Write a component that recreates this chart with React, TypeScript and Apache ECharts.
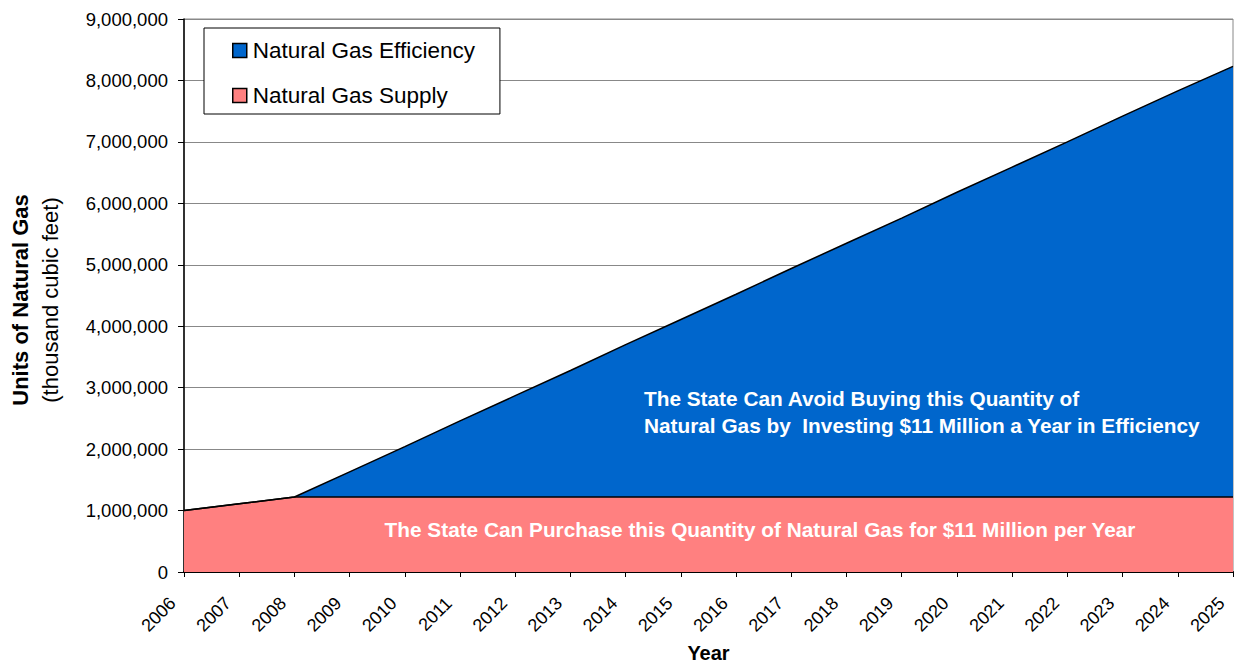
import React, { useEffect, useRef } from "react";
import * as echarts from "echarts";

const years = ["2006","2007","2008","2009","2010","2011","2012","2013","2014","2015","2016","2017","2018","2019","2020","2021","2022","2023","2024","2025"];
const supply = [1000000,1110000,1220000,1220000,1220000,1220000,1220000,1220000,1220000,1220000,1220000,1220000,1220000,1220000,1220000,1220000,1220000,1220000,1220000,1220000];
const efficiency = [0,0,0,410000,820000,1240000,1650000,2060000,2480000,2890000,3300000,3720000,4130000,4540000,4960000,5370000,5780000,6200000,6610000,7010000];
const yTicks = { min: 0, max: 9000000, interval: 1000000 };
const FONT = "'Liberation Sans', Arial, sans-serif";

export default function App() {
  const ref = useRef<HTMLDivElement>(null);
  useEffect(() => {
    document.body.style.margin = "0";
    const chart = echarts.init(ref.current!, null, { renderer: "svg" });
    chart.setOption({
      animation: false,
      textStyle: { fontFamily: FONT, color: "#000" },
      grid: { left: 184, right: 3, top: 19, bottom: 92, show: true, borderColor: "#888", borderWidth: 1, outerBoundsMode: "none", containLabel: false },
      legend: {
        data: ["Natural Gas Efficiency", "Natural Gas Supply"],
        orient: "vertical",
        left: 204,
        top: 28,
        padding: [11, 25, 7, 28],
        itemGap: 22,
        itemWidth: 14,
        itemHeight: 14,
        icon: "rect",
        borderColor: "#000",
        borderWidth: 1,
        backgroundColor: "#fff",
        itemStyle: { borderColor: "#000", borderWidth: 1.5 },
        textStyle: { fontSize: 22.5, color: "#000", fontFamily: FONT, padding: [0, 0, 0, 1], lineHeight: 22 },
      },
      xAxis: {
        type: "category",
        data: years,
        boundaryGap: false,
        name: "Year",
        nameLocation: "middle",
        nameGap: 71,
        nameMoveOverlap: false,
        nameTextStyle: { fontSize: 20, fontWeight: "bold", color: "#000", fontFamily: FONT, lineHeight: 20 },
        axisLine: { lineStyle: { color: "#000", width: 2 } },
        axisTick: { show: true, length: 5, lineStyle: { color: "#000" } },
        axisLabel: { rotate: 45, fontSize: 18, color: "#000", margin: 17, padding: [0, 16, 0, 0], fontFamily: FONT, interval: 0 },
        splitLine: { show: false },
      },
      yAxis: {
        type: "value",
        min: yTicks.min,
        max: yTicks.max,
        interval: yTicks.interval,
        axisLine: { show: true, lineStyle: { color: "#000", width: 1.5 } },
        axisTick: { show: true, length: 6, lineStyle: { color: "#000" } },
        axisLabel: {
          fontSize: 18.5, color: "#000", margin: 16, fontFamily: FONT,
          formatter: (v: number) => v.toLocaleString("en-US"),
        },
        splitLine: { show: true, lineStyle: { color: "#888", width: 1 } },
      },
      graphic: [
        {
          type: "text", x: 20, y: 300, rotation: Math.PI / 2,
          style: { text: "Units of Natural Gas", font: `bold 22px ${FONT}`, fill: "#000", align: "center", verticalAlign: "middle" },
        },
        {
          type: "text", x: 50, y: 300, rotation: Math.PI / 2,
          style: { text: "(thousand cubic feet)", font: `22px ${FONT}`, fill: "#000", align: "center", verticalAlign: "middle" },
        },
        {
          type: "text", x: 644, y: 398, z: 100,
          style: { text: "The State Can Avoid Buying this Quantity of", font: `bold 20.8px ${FONT}`, fill: "#fff", align: "left", verticalAlign: "middle" },
        },
        {
          type: "text", x: 644, y: 425, z: 100,
          style: { text: "Natural Gas by  Investing $11 Million a Year in Efficiency", font: `bold 20.8px ${FONT}`, fill: "#fff", align: "left", verticalAlign: "middle" },
        },
        {
          type: "text", x: 760, y: 529, z: 100,
          style: { text: "The State Can Purchase this Quantity of Natural Gas for $11 Million per Year", font: `bold 20.8px ${FONT}`, fill: "#fff", align: "center", verticalAlign: "middle" },
        },
      ],
      series: [
        {
          name: "Natural Gas Supply",
          type: "line",
          stack: "total",
          data: supply,
          symbol: "none",
          lineStyle: { color: "#000", width: 1.5 },
          itemStyle: { color: "#FF8080", borderColor: "#000" },
          areaStyle: { color: "#FF8080", opacity: 1 },
        },
        {
          name: "Natural Gas Efficiency",
          type: "line",
          stack: "total",
          data: efficiency,
          symbol: "none",
          lineStyle: { color: "#000", width: 1.5 },
          itemStyle: { color: "#0066CC", borderColor: "#000" },
          areaStyle: { color: "#0066CC", opacity: 1 },
        },
      ],
    });
    return () => chart.dispose();
  }, []);
  return <div ref={ref} style={{ width: 1236, height: 664 }} />;
}
